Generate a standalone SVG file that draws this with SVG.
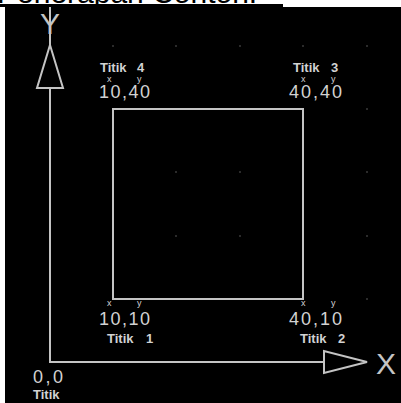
<svg xmlns="http://www.w3.org/2000/svg" width="401" height="403" viewBox="0 0 401 403">
<style>
.ln{fill:none;stroke:#c4c4c4;stroke-width:2}
.dot{fill:#3a3a3a}
.t{font-family:"Liberation Sans",Arial,sans-serif;fill:#d2d2d2}
.s{font-size:13px;font-weight:bold}
.c{font-size:18px}
.xy{font-size:9px}
.ax{font-size:30px;fill:#c4c4c4}
</style>
<rect x="0" y="0" width="401" height="403" fill="#ffffff"/>
<text x="-3" y="3" font-family="Liberation Sans,Arial,sans-serif" font-size="30" fill="#000">Penerapan Contoh:</text>
<rect x="0" y="4" width="283" height="3" fill="#000"/>
<rect x="5" y="7" width="396" height="396" fill="#000"/>
<g id="grid">
<circle class="dot" cx="113" cy="46" r="1"/><circle class="dot" cx="176" cy="46" r="1"/><circle class="dot" cx="240" cy="46" r="1"/><circle class="dot" cx="303" cy="46" r="1"/><circle class="dot" cx="367" cy="46" r="1"/>
<circle class="dot" cx="176" cy="109" r="1"/><circle class="dot" cx="240" cy="109" r="1"/><circle class="dot" cx="367" cy="109" r="1"/>
<circle class="dot" cx="176" cy="172" r="1"/><circle class="dot" cx="240" cy="172" r="1"/><circle class="dot" cx="367" cy="172" r="1"/>
<circle class="dot" cx="176" cy="236" r="1"/><circle class="dot" cx="240" cy="236" r="1"/><circle class="dot" cx="367" cy="236" r="1"/>
<circle class="dot" cx="176" cy="299" r="1"/><circle class="dot" cx="240" cy="299" r="1"/><circle class="dot" cx="367" cy="299" r="1"/>
</g>
<g id="connectors">
<path class="ln" d="M50 7V45M50 88V362H324"/>
<polygon class="ln" points="50,45 63,88 37,88"/>
<polygon class="ln" points="367,362 324,351 324,373"/>
</g>
<g id="axis-labels">
<text class="t ax" x="50" y="34" text-anchor="middle">Y</text>
<text class="t ax" x="386" y="374" text-anchor="middle">X</text>
</g>
<g id="square">
<rect class="ln" x="113" y="109" width="190" height="190"/>
</g>
<g id="titik4">
<text class="t s" x="100" y="72">Titik<tspan x="137">4</tspan></text>
<text class="t xy" x="107" y="82">x<tspan x="137">y</tspan></text>
<text class="t c" x="99" y="98" textLength="51">10,40</text>
</g>
<g id="titik3">
<text class="t s" x="293" y="72">Titik<tspan x="331">3</tspan></text>
<text class="t xy" x="301" y="82">x<tspan x="331">y</tspan></text>
<text class="t c" x="289" y="98" textLength="53">40,40</text>
</g>
<g id="titik1">
<text class="t xy" x="107" y="306">x<tspan x="137">y</tspan></text>
<text class="t c" x="99" y="325" textLength="51">10,10</text>
<text class="t s" x="107" y="343">Titik<tspan x="146">1</tspan></text>
</g>
<g id="titik2">
<text class="t xy" x="301" y="306">x<tspan x="331">y</tspan></text>
<text class="t c" x="289" y="325" textLength="53">40,10</text>
<text class="t s" x="300" y="343">Titik<tspan x="338">2</tspan></text>
</g>
<g id="origin">
<text class="t c" x="33" y="383" textLength="30">0,0</text>
<text class="t s" x="33" y="399">Titik</text>
</g>
</svg>
